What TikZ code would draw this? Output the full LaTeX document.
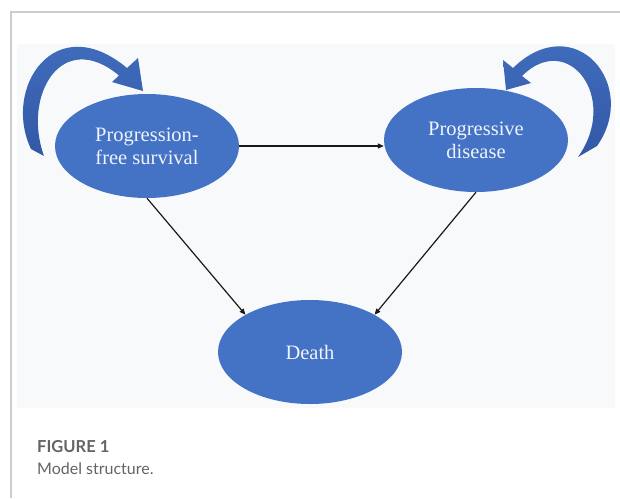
\documentclass[tikz,border=0pt]{standalone}
\usepackage{fontspec}
\setmainfont{Liberation Serif}
\newfontfamily\capfont{Lato}
\usetikzlibrary{arrows.meta,shapes.geometric,positioning}

\definecolor{stateblue}{RGB}{68,114,196}
\definecolor{loopdark}{RGB}{50,88,165}
\definecolor{panelgray}{RGB}{248,249,250}
\definecolor{framegray}{RGB}{204,204,204}
\definecolor{capgray}{RGB}{100,100,100}
\definecolor{labelwhite}{RGB}{240,244,252}

\tikzset{
  state/.style={ellipse, fill=stateblue, text=labelwhite, minimum width=184pt,
    minimum height=104pt, inner sep=0pt, align=center,
    font=\fontsize{20.5}{23}\selectfont},
  flow/.style={draw=black!90, line width=1.2pt, -{Triangle[length=6pt,width=5pt]}},
  selfarrow/.style={draw=none, top color=stateblue, bottom color=loopdark},
  caption/.style={anchor=base west, inner sep=0pt, text=capgray}
}

\begin{document}
\begin{tikzpicture}[x=1pt,y=-1pt]
\useasboundingbox (0,0) rectangle (620,498);
% frame and panel
\draw[framegray, line width=1.2pt] (620,12) -- (11,12) -- (11,498);
\fill[panelgray] (17,44) rectangle (615,408);

% states
\node[state] (pfs) at (147,146) {Progression-\\free survival};
\node[state] (pd) at (476,140) {Progressive\\disease};
\node[state] (death) at (310,352) {Death};

% transitions
\draw[flow] (pfs.east) -- (pfs.east -| pd.west);
\draw[flow] (pfs.south) -- (death.150);
\draw[flow] (pd.south) -- (death.30);

% staying in the same state
\path[selfarrow] (31,149) .. controls (2,88) and (55,8) .. (127,68)
  -- (138,58) -- (143,91) -- (112,82) -- (119,75.5)
  .. controls (62,28) and (22,95) .. (44,156) -- cycle;
\path[selfarrow] (597,146) .. controls (640,85) and (575,8) .. (513,68)
  -- (503,60) -- (506,90) -- (531,83) -- (522,76)
  .. controls (568,30) and (620,98) .. (578,157) -- cycle;

% caption
\node[caption, font=\capfont\bfseries\fontsize{16.5}{19}\selectfont] (figno) at (37,452) {FIGURE 1};
\node[caption, font=\capfont\fontsize{16}{19}\selectfont] (figtext) at (37,474) {Model structure.};
\end{tikzpicture}
\end{document}
